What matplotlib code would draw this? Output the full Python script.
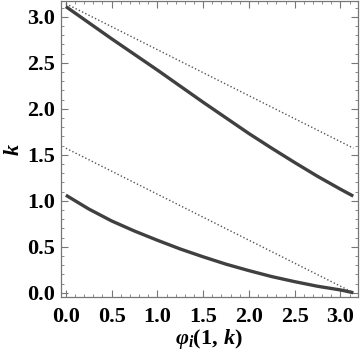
import matplotlib
matplotlib.use("Agg")
import matplotlib.pyplot as plt
from matplotlib.ticker import MultipleLocator

# values
phi_upper = [0.0, 0.25, 0.5, 0.75, 1.0, 1.25, 1.5, 1.75, 2.0, 2.25, 2.5, 2.75, 3.0, 3.14]
k_upper = [3.11, 2.935, 2.76, 2.59, 2.42, 2.245, 2.07, 1.90, 1.73, 1.57, 1.415, 1.265, 1.125, 1.05]

phi_lower = [0.0, 0.25, 0.5, 0.75, 1.0, 1.25, 1.5, 1.75, 2.0, 2.25, 2.5, 2.75, 3.0, 3.14]
k_lower = [1.06, 0.91, 0.78, 0.67, 0.57, 0.475, 0.39, 0.31, 0.24, 0.175, 0.12, 0.07, 0.03, 0.0]

# dotted reference lines (straight, end points)
phi_dot = [0.0, 3.1416]
k_dot_upper = [3.1416, 1.5708]
k_dot_lower = [1.5708, 0.0]

plt.rcParams['mathtext.fontset'] = 'custom'
plt.rcParams['mathtext.rm'] = 'Liberation Serif:bold'
plt.rcParams['mathtext.it'] = 'Liberation Serif:bold:italic'
plt.rcParams['mathtext.bf'] = 'Liberation Serif:bold'

fig = plt.figure(figsize=(3.6, 3.57), dpi=100)
ax = fig.add_axes([0.169, 0.168, 0.825, 0.829])

line_col = '#404040'
ax.plot(phi_upper, k_upper, color=line_col, lw=2.4, solid_capstyle='butt')
ax.plot(phi_lower, k_lower, color=line_col, lw=2.4, solid_capstyle='butt')
ax.plot(phi_dot, k_dot_upper, color='#555555', lw=1.0, linestyle=(0, (1, 1.6)))
ax.plot(phi_dot, k_dot_lower, color='#555555', lw=1.0, linestyle=(0, (1, 1.6)))

ax.set_xlim(-0.055, 3.19)
ax.set_ylim(-0.047, 3.17)

ax.xaxis.set_major_locator(MultipleLocator(0.5))
ax.xaxis.set_minor_locator(MultipleLocator(0.1))
ax.yaxis.set_major_locator(MultipleLocator(0.5))
ax.yaxis.set_minor_locator(MultipleLocator(0.1))
ax.xaxis.set_major_formatter(plt.FormatStrFormatter('%.1f'))
ax.yaxis.set_major_formatter(plt.FormatStrFormatter('%.1f'))

frame_col = '#777777'
for s in ax.spines.values():
    s.set_color(frame_col)
    s.set_linewidth(0.9)

ax.tick_params(which='both', direction='in', top=True, right=True, color=frame_col)
ax.tick_params(which='major', length=5, width=0.8, pad=7)
ax.tick_params(which='minor', length=2.5, width=0.6)
ax.tick_params(axis='y', which='major', pad=4)

for lab in ax.get_xticklabels() + ax.get_yticklabels():
    lab.set_fontfamily('Liberation Serif')
    lab.set_fontweight('bold')
    lab.set_fontsize(16)

ax.set_xlabel(r'$\varphi_i(1,\,k)$', fontsize=16, labelpad=0)
ax.set_ylabel(r'$k$', fontsize=16, labelpad=3)

fig.savefig('out.png', dpi=100)
